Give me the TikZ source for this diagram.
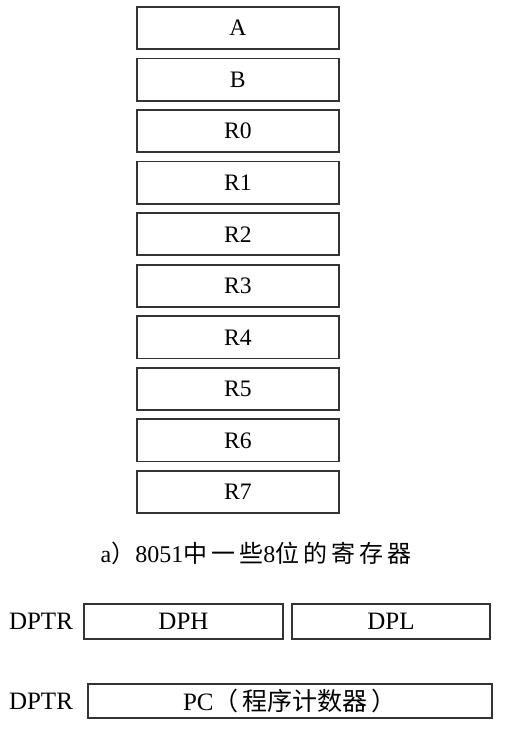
\documentclass[tikz,border=0pt]{standalone}
\usepackage{fontspec}
\setmainfont{Liberation Serif}
\newfontfamily\cjk{Noto Sans CJK SC}
\usetikzlibrary{positioning}

\begin{document}
\begin{tikzpicture}[
		x=1pt, y=1pt,
		node distance=3.78pt,
		block/.style={draw=black!80, line width=0.9pt, minimum height=21.1pt, minimum width=100.85pt, inner sep=0pt, align=center, font=\fontsize{11.8}{13}\selectfont},
		wide/.style={draw=black!80, line width=0.9pt, minimum height=17.6pt, inner sep=0pt, align=center, font=\fontsize{12.5}{14}\selectfont},
		tag/.style={font=\fontsize{12.5}{14}\selectfont},
	]
		\useasboundingbox (0,0) rectangle (260.5,-368);

		\node (a) [block] at (118.9,-14) {A};
		\node (b) [block, below=of a] {B};
		\node (r0) [block, below=of b] {R0};
		\node (r1) [block, below=of r0] {R1};
		\node (r2) [block, below=of r1] {R2};
		\node (r3) [block, below=of r2] {R3};
		\node (r4) [block, below=of r3] {R4};
		\node (r5) [block, below=of r4] {R5};
		\node (r6) [block, below=of r5] {R6};
		\node (r7) [block, below=of r6] {R7};

		\node (cap) at (128,-276.5) {\fontsize{12}{14}\selectfont a{\cjk ）}8051{\cjk 中\,一\,些}8{\cjk 位\,的\,寄\,存\,器}};

		\node (dph) [wide, minimum width=99.6pt] at (91.75,-310.75) {DPH};
		\node (dpl) [wide, minimum width=99.1pt, right=3.5pt of dph] {DPL};
		\node (dptr1) [tag, left=1.5pt of dph] {DPTR};

		\node (pc) [wide, minimum height=17.1pt, minimum width=202.1pt] at (145,-350.5) {PC{\cjk （\,程序计数器\,）}};
		\node (dptr2) [tag] at (dptr1 |- pc) {DPTR};
	\end{tikzpicture}
\end{document}
